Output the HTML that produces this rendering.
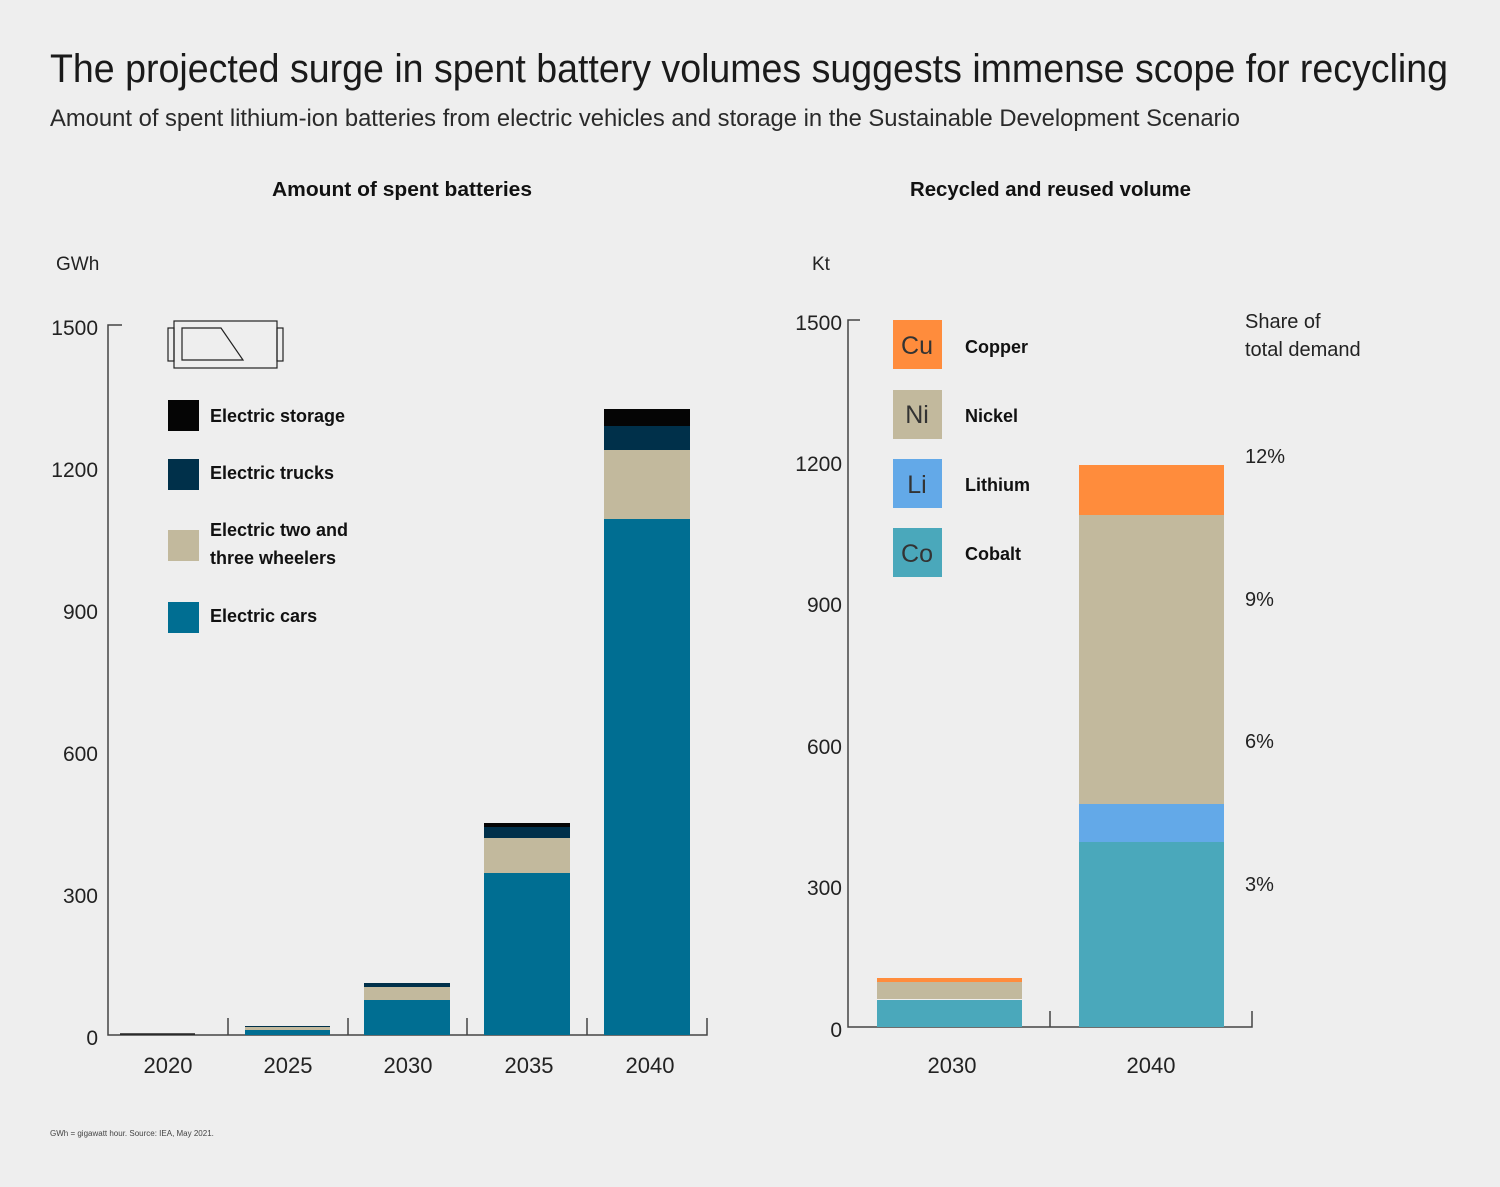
<!DOCTYPE html>
<html><head><meta charset="utf-8"><style>
html,body{margin:0;padding:0;background:#eeeeee;}
svg{display:block;font-family:"Liberation Sans",sans-serif;}
</style></head><body>
<svg width="1500" height="1187" viewBox="0 0 1500 1187" xmlns="http://www.w3.org/2000/svg">
<rect width="1500" height="1187" fill="#eeeeee"/>
<text x="50" y="82" font-size="40" fill="#1a1a1a" textLength="1398" lengthAdjust="spacingAndGlyphs">The projected surge in spent battery volumes suggests immense scope for recycling</text>
<text x="50" y="126" font-size="24" fill="#2a2a2a" textLength="1190" lengthAdjust="spacingAndGlyphs">Amount of spent lithium-ion batteries from electric vehicles and storage in the Sustainable Development Scenario</text>
<text x="272" y="196" font-size="20" font-weight="bold" fill="#111" textLength="260" lengthAdjust="spacingAndGlyphs">Amount of spent batteries</text>
<text x="910" y="196" font-size="20" font-weight="bold" fill="#111" textLength="281" lengthAdjust="spacingAndGlyphs">Recycled and reused volume</text>

<!-- left chart -->
<text x="56" y="270" font-size="19" fill="#222">GWh</text>
<g font-size="21" fill="#222" text-anchor="end">
<text x="98" y="335">1500</text><text x="98" y="477">1200</text><text x="98" y="619">900</text>
<text x="98" y="761">600</text><text x="98" y="903">300</text><text x="98" y="1045">0</text>
</g>
<g stroke="#444" stroke-width="1.5" fill="none">
<path d="M122 325 H108 V1035 H707 V1018"/>
<path d="M228 1018V1035 M348 1018V1035 M467 1018V1035 M587 1018V1035"/>
</g>
<line x1="120" y1="1034" x2="195" y2="1034" stroke="#222" stroke-width="1.5"/>
<!-- 2025 -->
<rect x="245" y="1030" width="85" height="5" fill="#006e92"/>
<rect x="245" y="1027" width="85" height="3" fill="#c2b99d"/>
<rect x="245" y="1026" width="85" height="1" fill="#00304a"/>
<!-- 2030 -->
<rect x="364" y="1000" width="86" height="35" fill="#006e92"/>
<rect x="364" y="987" width="86" height="13" fill="#c2b99d"/>
<rect x="364" y="983" width="86" height="4" fill="#00304a"/>
<!-- 2035 -->
<rect x="484" y="873" width="86" height="162" fill="#006e92"/>
<rect x="484" y="838" width="86" height="35" fill="#c2b99d"/>
<rect x="484" y="827" width="86" height="11" fill="#00304a"/>
<rect x="484" y="823" width="86" height="4" fill="#050505"/>
<!-- 2040 -->
<rect x="604" y="519" width="86" height="516" fill="#006e92"/>
<rect x="604" y="450" width="86" height="69" fill="#c2b99d"/>
<rect x="604" y="426" width="86" height="24" fill="#00304a"/>
<rect x="604" y="409" width="86" height="17" fill="#050505"/>
<g font-size="22" fill="#222" text-anchor="middle">
<text x="168" y="1073">2020</text><text x="288" y="1073">2025</text><text x="408" y="1073">2030</text>
<text x="529" y="1073">2035</text><text x="650" y="1073">2040</text>
</g>
<!-- battery icon -->
<g stroke="#222" stroke-width="1.2" fill="none">
<rect x="174" y="321" width="103" height="47"/>
<rect x="168" y="328" width="6" height="33"/>
<rect x="277" y="328" width="6" height="33"/>
<path d="M182 328 H221 L243 360 H182 Z"/>
</g>
<rect x="168" y="400" width="31" height="31" fill="#050505"/>
<rect x="168" y="459" width="31" height="31" fill="#00304a"/>
<rect x="168" y="530" width="31" height="31" fill="#c2b99d"/>
<rect x="168" y="602" width="31" height="31" fill="#006e92"/>
<g font-size="18" font-weight="bold" fill="#111">
<text x="210" y="422">Electric storage</text>
<text x="210" y="479">Electric trucks</text>
<text x="210" y="536">Electric two and</text>
<text x="210" y="564">three wheelers</text>
<text x="210" y="622">Electric cars</text>
</g>

<!-- right chart -->
<text x="812" y="270" font-size="19" fill="#222">Kt</text>
<g font-size="21" fill="#222" text-anchor="end">
<text x="842" y="330">1500</text><text x="842" y="471">1200</text><text x="842" y="612">900</text>
<text x="842" y="754">600</text><text x="842" y="895">300</text><text x="842" y="1037">0</text>
</g>
<g stroke="#444" stroke-width="1.5" fill="none">
<path d="M860 320 H848 V1027 H1252 V1011"/>
<path d="M1050 1011V1027"/>
</g>
<rect x="877" y="1000" width="145" height="27" fill="#4aa8bb"/>
<rect x="877" y="982" width="145" height="17" fill="#c2b99d"/>
<rect x="877" y="978" width="145" height="4" fill="#ff8c3c"/>
<rect x="1079" y="842" width="145" height="185" fill="#4aa8bb"/>
<rect x="1079" y="804" width="145" height="38" fill="#63a9e8"/>
<rect x="1079" y="515" width="145" height="289" fill="#c2b99d"/>
<rect x="1079" y="465" width="145" height="50" fill="#ff8c3c"/>
<g font-size="22" fill="#222" text-anchor="middle">
<text x="952" y="1073">2030</text><text x="1151" y="1073">2040</text>
</g>
<g font-size="20" fill="#222">
<text x="1245" y="328">Share of</text><text x="1245" y="356">total demand</text>
<text x="1245" y="463">12%</text><text x="1245" y="606">9%</text>
<text x="1245" y="748">6%</text><text x="1245" y="891">3%</text>
</g>
<rect x="893" y="320" width="49" height="49" fill="#ff8c3c"/>
<rect x="893" y="390" width="49" height="49" fill="#c2b99d"/>
<rect x="893" y="459" width="49" height="49" fill="#63a9e8"/>
<rect x="893" y="528" width="49" height="49" fill="#4aa8bb"/>
<g font-size="25" fill="#333" text-anchor="middle">
<text x="917" y="354">Cu</text><text x="917" y="423">Ni</text>
<text x="917" y="493">Li</text><text x="917" y="562">Co</text>
</g>
<g font-size="18" font-weight="bold" fill="#111">
<text x="965" y="353">Copper</text><text x="965" y="422">Nickel</text>
<text x="965" y="491">Lithium</text><text x="965" y="560">Cobalt</text>
</g>
<text x="50" y="1136" font-size="8" fill="#444">GWh = gigawatt hour. Source: IEA, May 2021.</text>
</svg>
</body></html>
